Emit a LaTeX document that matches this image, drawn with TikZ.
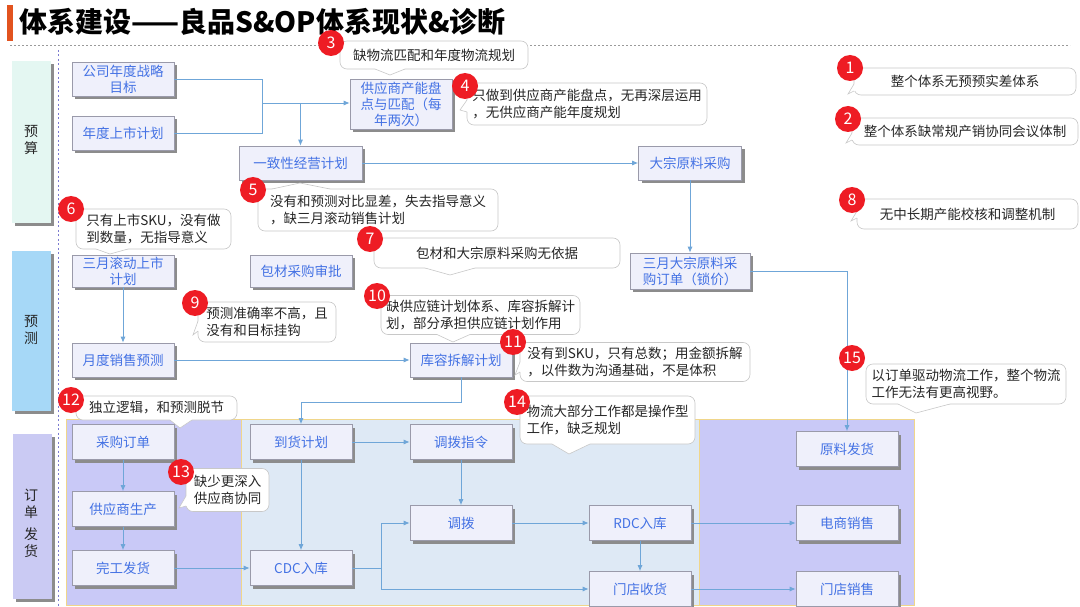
\documentclass[tikz,border=0pt]{standalone}
\usepackage{fontspec}
\setmainfont{Noto Sans CJK SC}
\usetikzlibrary{arrows.meta,shadows}
\definecolor{boxfill}{HTML}{EFF0FB}
\definecolor{boxborder}{HTML}{9A9AAA}
\definecolor{boxtext}{HTML}{4472E4}
\definecolor{shadowgray}{HTML}{8C8C8C}
\definecolor{conncol}{HTML}{6FA6D8}
\definecolor{bubline}{HTML}{C8C8C8}
\definecolor{badgered}{HTML}{EE1C24}
\definecolor{laneA}{HTML}{E4F7F2}
\definecolor{laneB}{HTML}{A6D8F7}
\definecolor{laneC}{HTML}{CACAF3}
\definecolor{regL}{HTML}{C9C9F7}
\definecolor{regM}{HTML}{DEE9F5}
\definecolor{regBorder}{HTML}{F0D68A}
\definecolor{titlebar}{HTML}{E2531F}
\definecolor{topdash}{HTML}{9A9A9A}
\definecolor{vdash}{HTML}{7B7BD0}
\newcommand{\tailB}[4]{% bottom tail: xa, xb, y, tip
  \fill[white] (#1,#3-1.5) -- (#1,#3) -- (#4) -- (#2,#3) -- (#2,#3-1.5) -- cycle;
  \draw[bubedge] (#1,#3) -- (#4) -- (#2,#3);}
\newcommand{\tailT}[4]{% top tail: xa, xb, y, tip
  \fill[white] (#1,#3+1.5) -- (#1,#3) -- (#4) -- (#2,#3) -- (#2,#3+1.5) -- cycle;
  \draw[bubedge] (#1,#3) -- (#4) -- (#2,#3);}
\newcommand{\tailL}[4]{% left tail: x, ya, yb, tip
  \fill[white] (#1+1.5,#2) -- (#1,#2) -- (#4) -- (#1,#3) -- (#1+1.5,#3) -- cycle;
  \draw[bubedge] (#1,#2) -- (#4) -- (#1,#3);}
\begin{document}
\begin{tikzpicture}[x=1pt,y=-1pt,
  box/.style={draw=boxborder, line width=0.6pt, fill=boxfill, text=boxtext,
    font=\fontsize{13.5}{16}\selectfont, inner sep=1pt, minimum width=102pt,
    minimum height=34pt, align=center,
    drop shadow={shadow xshift=3pt, shadow yshift=-3pt, fill=shadowgray, opacity=1}},
  lane/.style={draw=none, minimum width=39pt, inner sep=0pt,
    drop shadow={shadow xshift=3pt, shadow yshift=-3pt, fill=shadowgray, opacity=1}},
  lanetext/.style={font=\fontsize{14}{17}\selectfont, text=black!85, align=center},
  bubble/.style={draw=bubline, line width=0.6pt, fill=white, rounded corners=7pt,
    font=\fontsize{13.5}{17}\selectfont, text=black!85, align=left, inner sep=2pt},
  bubedge/.style={draw=bubline, line width=0.6pt},
  badge/.style={circle, fill=badgered, text=white, minimum size=26pt, inner sep=0pt,
    font=\fontsize{16}{16}\selectfont},
  conn/.style={draw=conncol, line width=0.9pt},
  arr/.style={conn, -{Latex[length=6pt,width=5pt]}}
]
\useasboundingbox (0,0) rectangle (1080,607);
\clip (0,0) rectangle (1080,607);
\fill[white] (0,0) rectangle (1080,607);

% title
\fill[titlebar] (7,5) rectangle (13,41);
\node[anchor=west, font=\fontsize{28}{28}\selectfont\bfseries, inner sep=0pt] (title) at (19,22) {体系建设——良品S\&OP体系现状\&诊断};
\draw[topdash, line width=0.8pt, dash pattern=on 2pt off 2pt] (10,45) -- (1070,45);
\draw[vdash, line width=0.8pt, dash pattern=on 2pt off 2.5pt] (58,50) -- (58,607);

% lanes
\node[lane, fill=laneA, minimum height=162pt] (laneYS) at (31.5,142) {};
\node[lanetext] (tYS) at (31,140) {预\\算};
\node[lane, fill=laneB, minimum height=160pt] (laneYC) at (31.5,331) {};
\node[lanetext] (tYC) at (31,330) {预\\测};
\node[lane, fill=laneC, minimum height=165pt] (laneDD) at (32,516.5) {};
\node[lanetext] (tDD) at (31,523) {订\\单\\[5pt]发\\货};

% order regions
\fill[regL] (66,419) rectangle (241,605);
\fill[regM] (241,419) rectangle (699,605);
\fill[regL] (699,419) rectangle (914,605);
\draw[regBorder, line width=0.9pt] (66,419) rectangle (914,605);
\draw[regBorder, line width=0.9pt] (241,419) -- (241,605);
\draw[regBorder, line width=0.9pt] (699,419) -- (699,605);

% boxes
\node[box] (gs) at (123,79) {公司年度战略\\目标};
\node[box] (ns) at (123,133) {年度上市计划};
\node[box, minimum height=50pt] (gy) at (401,104) {供应商产能盘\\点与匹配（每\\年两次）};
\node[box, minimum width=123pt] (yz) at (300.5,163) {一致性经营计划};
\node[box, minimum width=103pt] (dz) at (690,163) {大宗原料采购};
\node[box, minimum width=120pt, minimum height=36pt] (sg) at (690,271) {三月大宗原料采\\购订单（锁价）};
\node[box, minimum height=32pt] (sy) at (123,271) {三月滚动上市\\计划};
\node[box, minimum height=32pt] (bc) at (301,271) {包材采购审批};
\node[box] (yd) at (123,360) {月度销售预测};
\node[box] (kr) at (461,360) {库容拆解计划};
\node[box, minimum height=35pt] (cg) at (123,442) {采购订单};
\node[box, minimum height=35pt] (gs2) at (123,509) {供应商生产};
\node[box, minimum height=35pt] (wg) at (123,568) {完工发货};
\node[box, minimum height=35pt] (dh) at (301,442) {到货计划};
\node[box, minimum height=35pt] (cdc) at (301,568) {CDC入库};
\node[box, minimum height=35pt] (dbz) at (461,442) {调拨指令};
\node[box, minimum height=35pt] (db) at (461,523) {调拨};
\node[box, minimum height=35pt] (rdc) at (640,523) {RDC入库};
\node[box, minimum height=35pt] (mdsh) at (640,589) {门店收货};
\node[box, minimum height=35pt] (ylfh) at (847,449) {原料发货};
\node[box, minimum height=35pt] (dsxs) at (847,523) {电商销售};
\node[box, minimum height=35pt] (mdxs) at (847,589) {门店销售};

% connectors
\coordinate (jA) at (262,79);
\coordinate (jB) at (262,133);
\coordinate (jM) at (262,103);
\coordinate (jD) at (300.5,103);
\draw[conn] (gs.east) -- (jA) -- (jB) -- (ns.east);
\draw[arr] (jM) -- (jM -| gy.west);
\draw[arr] (jD) -- (yz.north);
\draw[arr] (yz.east) -- (dz.west);
\draw[arr] (dz.south) -- (sg.north);
\draw[arr] (sg.east) -| (ylfh.north);
\draw[arr] (sy.south) -- (yd.north);
\draw[arr] (yd.east) -- (kr.west);
\coordinate (kA) at (461,402);
\draw[arr] (kr.south) -- (kA) -| (dh.north);
\draw[arr] (cg) -- (gs2);
\draw[arr] (gs2) -- (wg);
\draw[arr] (wg) -- (cdc);
\draw[arr] (dh) -- (cdc);
\draw[arr] (dh) -- (dbz);
\draw[arr] (dbz) -- (db);
\coordinate (cA) at (381,568);
\draw[conn] (cdc.east) -- (cA);
\draw[arr] (cA) |- (db.west);
\draw[arr] (cA) |- (mdsh.west);
\draw[arr] (db) -- (rdc);
\draw[arr] (rdc) -- (dsxs);
\draw[arr] (rdc) -- (mdsh);
\draw[arr] (mdsh) -- (mdxs);

% callout bubbles
\node[bubble, minimum width=222pt, minimum height=27pt, align=center] (b1) at (965,81.5) {整个体系无预预实差体系};
\tailL{854}{84}{91}{848,94}
\node[bubble, minimum width=226pt, minimum height=27pt, align=center] (b2) at (965,131.5) {整个体系缺常规产销协同会议体制};
\tailL{852}{133}{140}{846,143}
\node[bubble, minimum width=221pt, minimum height=30pt, align=center] (b8) at (967.5,214) {无中长期产能校核和调整机制};
\tailL{857}{211}{218}{851,221}
\node[bubble, minimum width=188pt, minimum height=28pt, align=center] (b3) at (434,55) {缺物流匹配和年度物流规划};
\tailB{375}{405}{69}{390,75}
\node[bubble, minimum width=240pt, minimum height=42pt] (b4) at (587,104) {只做到供应商产能盘点，无再深层运用\\，无供应商产能年度规划};
\tailL{467}{100}{112}{460,110}
\node[bubble, minimum width=240pt, minimum height=42pt] (b5) at (378,210) {没有和预测对比显差，失去指导意义\\，缺三月滚动销售计划};
\tailT{272}{330}{189}{300,183}
\node[bubble, minimum width=155pt, minimum height=40pt] (b6) at (153.5,229) {只有上市SKU，没有做\\到数量，无指导意义};
\tailB{96}{128}{249}{110,254}
\node[bubble, minimum width=246pt, minimum height=30pt, align=center] (b7) at (497,253) {包材和大宗原料采购无依据};
\tailB{425}{475}{268}{450,275}
\node[bubble, minimum width=138pt, minimum height=40pt] (b9) at (267,322) {预测准确率不高，且\\没有和目标挂钩};
\tailL{198}{321}{331}{193,335}
\node[bubble, minimum width=199pt, minimum height=39pt] (b10) at (480.5,315) {缺供应链计划体系、库容拆解计\\划，部分承担供应链计划作用};
\tailB{437}{470}{334.5}{453,342}
\node[bubble, minimum width=230pt, minimum height=39pt] (b11) at (635,362) {没有到SKU，只有总数；用金额拆解\\，以件数为沟通基础，不是体积};
\tailL{520}{362}{372}{515,375}
\node[bubble, minimum width=161pt, minimum height=24pt, align=center] (b12) at (156.5,408) {独立逻辑，和预测脱节};
\tailB{170}{192}{420}{180,428}
\node[bubble, minimum width=83pt, minimum height=43pt] (b13) at (227.5,490) {缺少更深入\\供应商协同};
\tailL{186}{496}{506}{179,508}
\node[bubble, minimum width=175pt, minimum height=48pt] (b14) at (607.5,420) {物流大部分工作都是操作型\\工作，缺乏规划};
\tailB{552}{590}{444}{569,454}
\node[bubble, minimum width=200pt, minimum height=40pt] (b15) at (966,384) {以订单驱动物流工作，整个物流\\工作无法有更高视野。};
\tailB{898}{950}{404}{916,413}

% badges
\node[badge] (n1) at (850,68) {1};
\node[badge] (n2) at (848,119) {2};
\node[badge] (n3) at (331,43) {3};
\node[badge] (n4) at (465,86) {4};
\node[badge] (n5) at (253,190) {5};
\node[badge] (n6) at (71,209) {6};
\node[badge] (n7) at (370,239) {7};
\node[badge] (n8) at (852,200) {8};
\node[badge] (n9) at (195,303) {9};
\node[badge] (n10) at (377,296) {10};
\node[badge] (n11) at (513,342) {11};
\node[badge] (n12) at (71,400) {12};
\node[badge] (n13) at (181,472) {13};
\node[badge] (n14) at (517,402) {14};
\node[badge] (n15) at (852,358) {15};
\end{tikzpicture}
\end{document}
